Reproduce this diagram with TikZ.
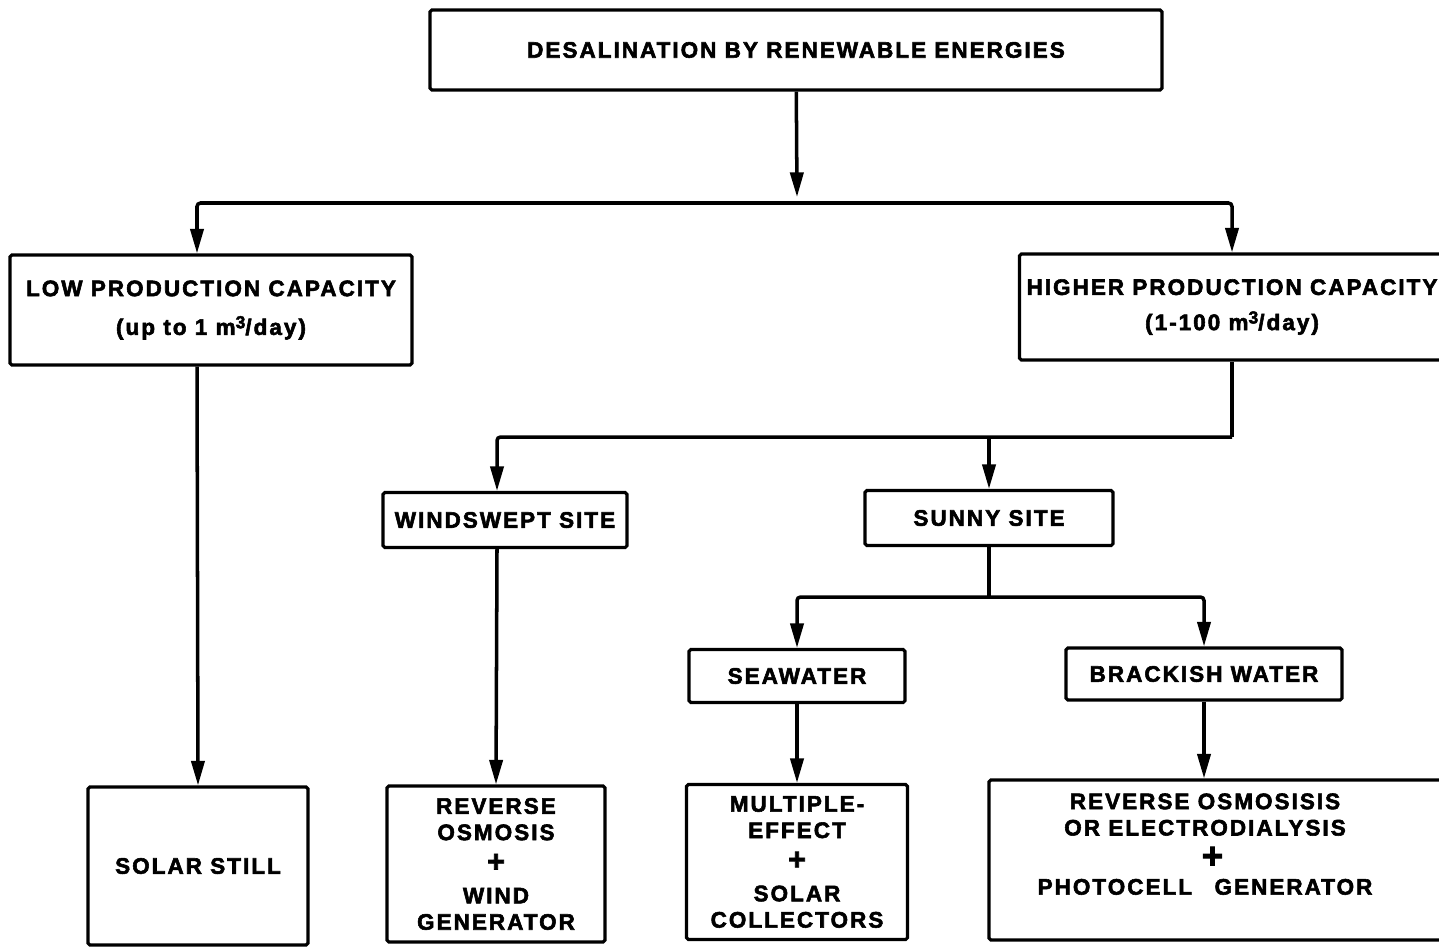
\documentclass[tikz,border=0pt]{standalone}
\usepackage{fontspec}
\newfontfamily\heavyfont{Liberation Sans}[FakeBold=2.5,LetterSpace=9]
\usepackage{tikz}
\usetikzlibrary{arrows.meta,positioning,calc}
\newcommand{\cubed}{\raisebox{0.55ex}{\fontsize{10}{10}\selectfont 3}}

\begin{document}
\begin{tikzpicture}[x=0.02cm,y=-0.02cm,
    box/.style={draw,line width=1.8pt,rounded corners=1pt,align=center,
      inner sep=0pt,font=\fontsize{12.8}{15}\heavyfont\bfseries},
    wire/.style={line width=2pt,rounded corners=2pt},
    arr/.style={wire,-{Triangle[length=14pt,width=7.5pt]}}]
        \clip (0,0) rectangle (1439,947);

        % Root
        \node[box,minimum width=14.64cm,minimum height=1.6cm] (desal) at (796,50)
          {DESALINATION BY RENEWABLE ENERGIES};

        % Capacities
        \node[box,minimum width=8.04cm,minimum height=2.2cm] (low) at (211,310)
          {LOW PRODUCTION CAPACITY\\[7pt](up to 1 m\cubed/day)};
        \node[box,minimum width=8.5cm,minimum height=2.12cm] (high) at (1232,307)
          {HIGHER PRODUCTION CAPACITY\\[5pt](1-100 m\cubed/day)};

        % Sites
        \node[box,minimum width=4.88cm,minimum height=1.1cm] (wind) at (505,520)
          {WINDSWEPT SITE};
        \node[box,minimum width=4.96cm,minimum height=1.1cm] (sunny) at (989,518)
          {SUNNY SITE};

        % Water
        \node[box,minimum width=4.32cm,minimum height=1.06cm] (sea) at (797,676)
          {SEAWATER};
        \node[box,minimum width=5.52cm,minimum height=1.04cm] (brack) at (1204,674)
          {BRACKISH WATER};

        % Processes
        \node[box,minimum width=4.4cm,minimum height=3.16cm] (still) at (198,866)
          {SOLAR STILL};
        \node[box,minimum width=4.36cm,minimum height=3.12cm] (ro) at (496,864)
          {REVERSE\\OSMOSIS\\[3pt]{\LARGE +}\\[3pt]WIND\\GENERATOR};
        \node[box,minimum width=4.42cm,minimum height=3.1cm] (mult) at (797,862)
          {MULTIPLE-\\EFFECT\\[3pt]{\LARGE +}\\[3pt]SOLAR\\COLLECTORS};
        \node[box,minimum width=9.12cm,minimum height=3.2cm] (pv) at (1217,860)
          {\begin{tabular}{@{}c@{}}REVERSE OSMOSISIS\\OR ELECTRODIALYSIS\\[2pt]\hspace*{0.3cm}{\huge +}\\[0pt]PHOTOCELL\quad GENERATOR\end{tabular}\hspace*{0.48cm}\\[0.5cm]};

        % Junctions
        \coordinate (j1) at (797,203);
        \coordinate (j2) at (1232,437);
        \coordinate (j3) at (989,597);

        % Connectors
        \draw[arr] (desal) -- ([yshift=0.12cm]j1);
        \draw[arr] (j1) -| ([xshift=-0.28cm]low.north);
        \draw[arr] (j1) -| (high.north);
        \draw[arr] ([xshift=-0.28cm]low.south) -- (still.north);

        \draw[wire] (high.south) -- (j2);
        \draw[arr] (j2) -| ([xshift=-0.16cm]wind.north);
        \draw[arr] (j2 -| sunny) -- (sunny);
        \draw[arr] ([xshift=-0.16cm]wind.south) -- (ro.north);

        \draw[wire] (sunny) -- (j3);
        \draw[arr] (j3) -| (sea);
        \draw[arr] (j3) -| (brack);
        \draw[arr] (sea) -- (mult);
        \draw[arr] (brack) -- (brack |- pv.north);
      \end{tikzpicture}
\end{document}
